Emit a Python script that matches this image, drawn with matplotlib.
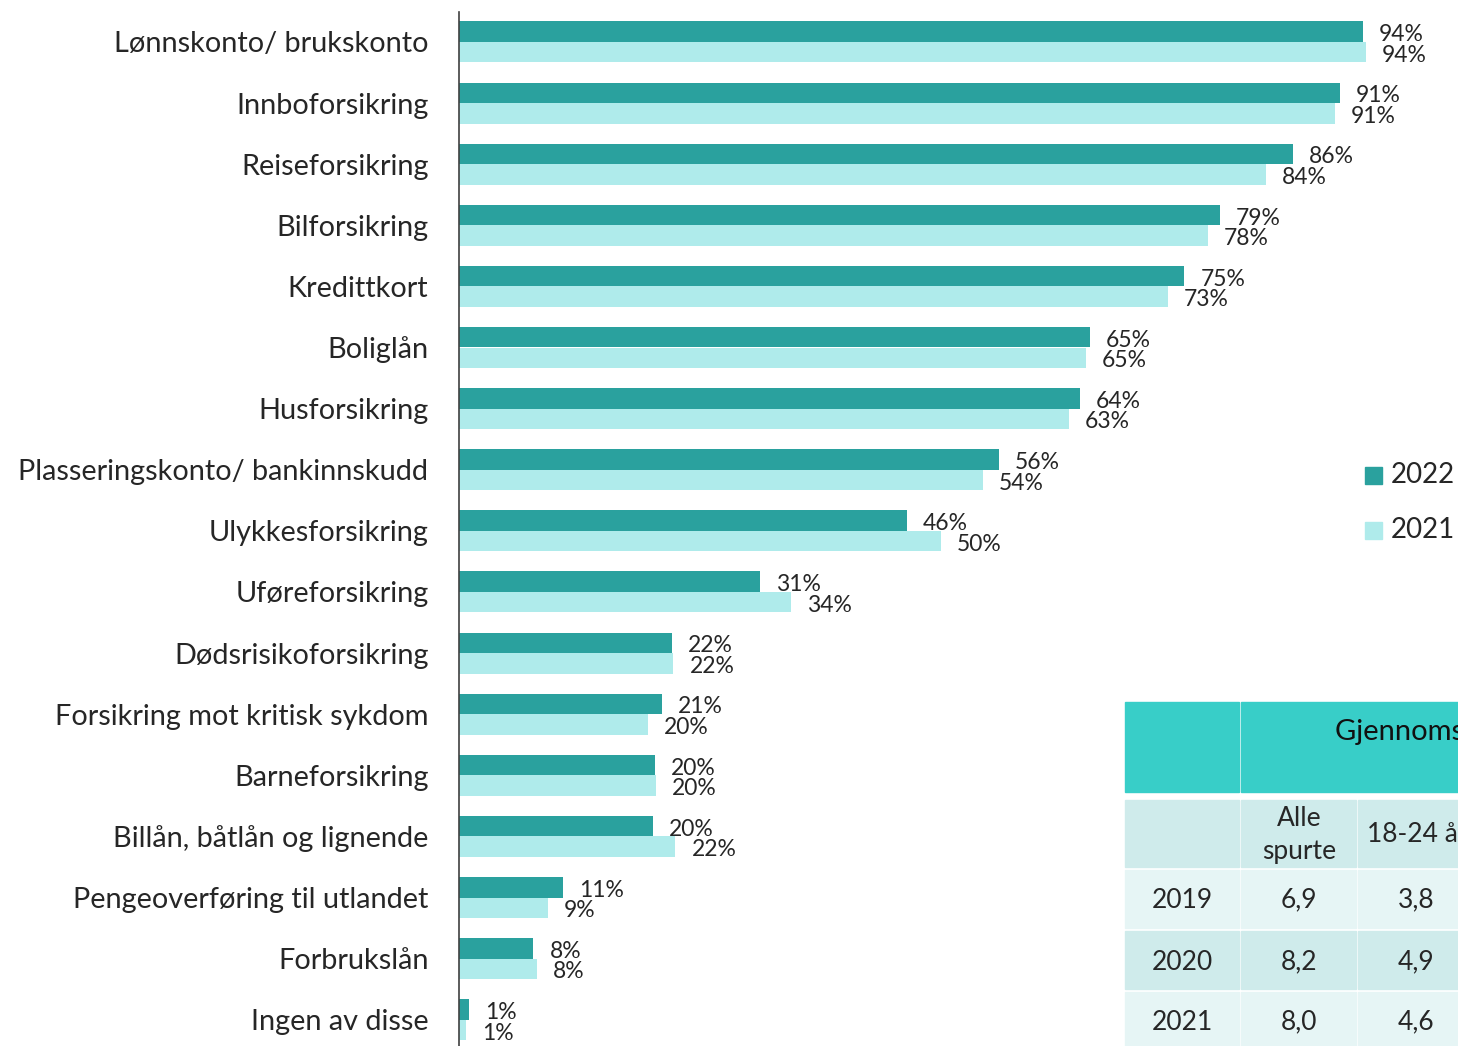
import matplotlib.pyplot as plt
from matplotlib.patches import Rectangle

plt.rcParams['font.family'] = ['Lato', 'DejaVu Sans']

kategorier = [
    "Lønnskonto/ brukskonto", "Innboforsikring", "Reiseforsikring", "Bilforsikring",
    "Kredittkort", "Boliglån", "Husforsikring", "Plasseringskonto/ bankinnskudd",
    "Ulykkesforsikring", "Uføreforsikring", "Dødsrisikoforsikring",
    "Forsikring mot kritisk sykdom", "Barneforsikring", "Billån, båtlån og lignende",
    "Pengeoverføring til utlandet", "Forbrukslån", "Ingen av disse",
]
# verdier lest av figuren (stolpelengde), etiketter avrundet
verdier_2022 = [93.6, 91.2, 86.3, 78.8, 75.1, 65.3, 64.3, 55.9, 46.4, 31.2,
                22.0, 21.0, 20.3, 20.1, 10.8, 7.7, 1.0]
verdier_2021 = [93.9, 90.7, 83.5, 77.5, 73.4, 64.9, 63.1, 54.2, 49.9, 34.4,
                22.2, 19.6, 20.4, 22.4, 9.2, 8.1, 0.7]

# tabell nede til høyre
tabell_aar = ["2019", "2020", "2021"]
tabell_alle = [6.9, 8.2, 8.0]
tabell_unge = [3.8, 4.9, 4.6]

mork = "#2AA19E"
lys = "#AFEBEB"
tekst = "#262626"

W, H = 1458, 1046
fig = plt.figure(figsize=(W / 100, H / 100), dpi=100)
ax = fig.add_axes([459 / W, 0, 1 - 459 / W, 1 - 12 / H])

y = list(range(len(kategorier)))
h = 0.335
ax.barh([i - h / 2 for i in y], verdier_2022, height=h, color=mork, label="2022")
ax.barh([i + h / 2 for i in y], verdier_2021, height=h, color=lys, label="2021")

for i in y:
    ax.annotate(f"{verdier_2022[i]:.0f}%", (verdier_2022[i], i - h / 2 + 0.05),
                xytext=(16, 0), textcoords="offset pixels",
                va="center", ha="left", fontsize=16.5, color=tekst)
    ax.annotate(f"{verdier_2021[i]:.0f}%", (verdier_2021[i], i + h / 2 + 0.05),
                xytext=(16, 0), textcoords="offset pixels",
                va="center", ha="left", fontsize=16.5, color=tekst)

ax.set_xlim(0, 999 / 9.66)
ax.set_ylim(16.43, -0.49)
ax.set_yticks(y)
ax.set_yticklabels(kategorier, fontsize=20.8, color=tekst)
ax.tick_params(axis="y", length=0, pad=22)
ax.set_xticks([])
for s in ["top", "right", "bottom"]:
    ax.spines[s].set_visible(False)
ax.spines["left"].set_color("#404040")
ax.spines["left"].set_linewidth(1.2)

# forklaring
for lbl, col, yy in [("2022", mork, 475), ("2021", lys, 530)]:
    fig.patches.append(Rectangle((1365 / W, 1 - (yy + 9) / H), 17 / W, 17 / H,
                                 transform=fig.transFigure, color=col))
    fig.text(1391 / W, 1 - yy / H, lbl, fontsize=20, color=tekst, va="center", ha="left")

# tabell
topp = "#38CEC8"
mid = "#CFEBEB"
lysrad = "#E6F5F5"


def celle(x0, y0, x1, y1, farge):
    fig.patches.append(Rectangle((x0 / W, 1 - y1 / H), (x1 - x0) / W, (y1 - y0) / H,
                                 transform=fig.transFigure, color=farge, zorder=3))


celle(1125, 702, 1239, 792, topp)
celle(1241, 702, 1470, 792, topp)
fig.text(1335 / W, 1 - 732 / H, "Gjennomsnittlig antall produkter", fontsize=21,
         color="#111111", va="center", ha="left", zorder=4)

celle(1125, 800, 1239, 867, mid)
celle(1241, 800, 1356, 867, mid)
celle(1358, 800, 1470, 867, mid)
fig.text(1299 / W, 1 - 835 / H, "Alle\nspurte", fontsize=19, color=tekst,
         va="center", ha="center", linespacing=1.45, zorder=4)
fig.text(1367 / W, 1 - 835 / H, "18-24 år", fontsize=19, color=tekst,
         va="center", ha="left", zorder=4)

rad_y = [(870, 928), (931, 989), (992, 1052)]
rad_senter = [900, 962, 1022]
rad_farge = [lysrad, mid, lysrad]
for k, aar in enumerate(tabell_aar):
    y0, y1 = rad_y[k]
    celle(1125, y0, 1239, y1, rad_farge[k])
    celle(1241, y0, 1356, y1, rad_farge[k])
    celle(1358, y0, 1470, y1, rad_farge[k])
    yc = 1 - rad_senter[k] / H
    fig.text(1182 / W, yc, aar, fontsize=19, color=tekst, va="center", ha="center", zorder=4)
    fig.text(1299 / W, yc, f"{tabell_alle[k]:.1f}".replace(".", ","), fontsize=19,
             color=tekst, va="center", ha="center", zorder=4)
    fig.text(1416 / W, yc, f"{tabell_unge[k]:.1f}".replace(".", ","), fontsize=19,
             color=tekst, va="center", ha="center", zorder=4)

fig.savefig("out.png", dpi=100)
